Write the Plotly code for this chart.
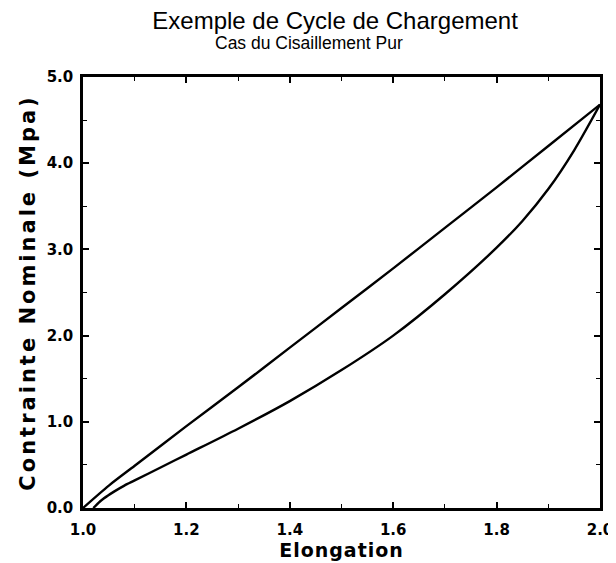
import plotly.graph_objects as go

## Data
# Chargement (courbe superieure)
load_x = [1.0, 1.05, 1.1, 1.2, 1.3, 1.4, 1.5, 1.6, 1.7, 1.8, 1.9, 2.0]
load_y = [0.0, 0.26, 0.49, 0.95, 1.40, 1.86, 2.32, 2.78, 3.25, 3.72, 4.20, 4.68]
# Dechargement (courbe inferieure)
unload_x = [2.0, 1.95, 1.9, 1.85, 1.8, 1.7, 1.6, 1.5, 1.4, 1.3, 1.2, 1.15, 1.1, 1.08, 1.06, 1.04, 1.03, 1.02]
unload_y = [4.68, 4.15, 3.70, 3.33, 3.02, 2.48, 2.00, 1.60, 1.24, 0.92, 0.62, 0.47, 0.32, 0.26, 0.19, 0.11, 0.06, 0.0]

x_ticks = [1.0, 1.2, 1.4, 1.6, 1.8, 2.0]
y_ticks = [0.0, 1.0, 2.0, 3.0, 4.0, 5.0]

## Styling
# the page has an 8px body margin, so the figure is 8px smaller than the window
title_font = 'Liberation Sans, Arial, sans-serif'
axis_font = 'DejaVu Sans, sans-serif'
curve = dict(color='black', width=2.4, shape='spline', smoothing=0.8)

fig = go.Figure()
fig.add_trace(go.Scatter(x=load_x, y=load_y, mode='lines', line=curve))
fig.add_trace(go.Scatter(x=unload_x, y=unload_y, mode='lines', line=curve))

axis_common = dict(
    showgrid=False, zeroline=False, showline=True, linecolor='black', linewidth=2.5,
    mirror='ticks', ticks='inside', ticklen=6, tickwidth=1.5, tickcolor='black',
    tickformat='.1f', automargin=False,
    tickfont=dict(family=axis_font, size=15, color='black', weight='bold'),
    minor=dict(ticks='inside', ticklen=4, tickwidth=1.2, tickcolor='black'),
)

fig.update_xaxes(axis_common, range=[1.0, 2.0], tickvals=x_ticks, minor_dtick=0.1,
                 ticklabelstandoff=6,
                 title=dict(text="<span style='letter-spacing:1px'>Elongation</span>", standoff=0,
                            font=dict(family=axis_font, size=19, color='black', weight='bold')))
fig.update_yaxes(axis_common, range=[0.0, 5.0], tickvals=y_ticks, minor_dtick=0.5,
                 ticklabelstandoff=4,
                 title=dict(text="<span style='letter-spacing:3px'>Contrainte Nominale (Mpa)</span>",
                            standoff=6,
                            font=dict(family=axis_font, size=21, color='black', weight='bold')))

fig.update_layout(
    width=608, height=555,
    margin=dict(l=75, r=16, t=69, b=55),
    paper_bgcolor='white', plot_bgcolor='white',
    showlegend=False,
    title=dict(text='Exemple de Cycle de Chargement', x=0.538, xanchor='center',
               y=0.978, yanchor='middle',
               font=dict(family=title_font, size=24, color='black')),
    annotations=[dict(text='Cas du Cisaillement Pur', x=0.437, xref='paper', y=1.0, yref='paper',
                      yshift=34, showarrow=False, xanchor='center', yanchor='middle',
                      font=dict(family=title_font, size=17.5, color='black'))],
)

fig.write_html("out.html")
